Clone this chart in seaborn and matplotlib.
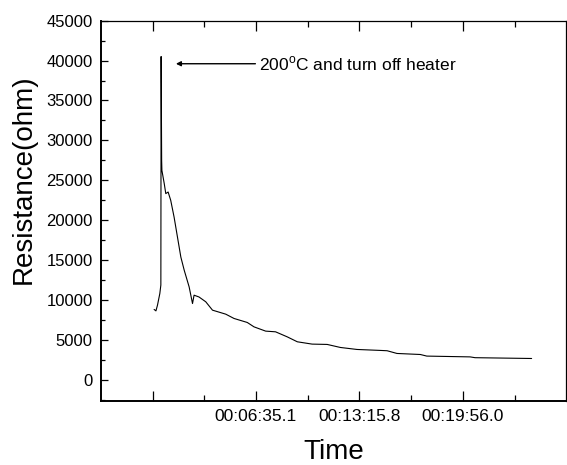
import matplotlib
matplotlib.use("Agg")
import matplotlib.pyplot as plt
from matplotlib.ticker import MultipleLocator, FixedLocator
import seaborn as sns
import pandas as pd

# time in seconds since start, resistance in ohm
time_s = [6, 13, 19, 28, 32, 33, 35, 36, 45, 51, 60, 70, 83, 96, 109, 122,
          141, 154, 160, 179, 205, 231, 282, 314, 365, 391, 436, 474, 519,
          558, 615, 673, 724, 788, 878, 904, 942, 1032, 1057, 1224, 1243,
          1461]
resistance = [8840, 8660, 9375, 10830, 11900, 40500, 27500, 26250, 24600,
              23340, 23540, 22500, 20400, 17900, 15400, 13750, 11660, 9580,
              10625, 10400, 9800, 8750, 8250, 7710, 7210, 6660, 6125, 6040,
              5410, 4790, 4500, 4460, 4080, 3830, 3710, 3670, 3330, 3200,
              3000, 2900, 2800, 2700]

tick_pos = [0, 398.67, 797.33, 1196.0]
tick_labels = ["", "00:06:35.1", "00:13:15.8", "00:19:56.0"]

df = pd.DataFrame({"Time": time_s, "Resistance": resistance})

sns.set_style("ticks")
plt.rcParams["font.family"] = ["Liberation Sans", "DejaVu Sans"]
plt.rcParams["mathtext.fontset"] = "custom"
plt.rcParams["mathtext.rm"] = "Liberation Sans"
plt.rcParams["text.color"] = "black"
plt.rcParams["axes.labelcolor"] = "black"

fig = plt.figure(figsize=(5.67, 4.65), dpi=100)
ax = fig.add_axes([0.178, 0.1387, 0.820, 0.817])
sns.lineplot(data=df, x="Time", y="Resistance", color="black", lw=0.8,
             sort=False, ax=ax)

ax.set_xlim(-199, 1593)
ax.set_ylim(-2560, 45000)
ax.yaxis.set_major_locator(FixedLocator(range(0, 45001, 5000)))
ax.yaxis.set_minor_locator(MultipleLocator(2500))
ax.xaxis.set_major_locator(FixedLocator(tick_pos))
ax.xaxis.set_minor_locator(FixedLocator([199.3, 598, 996.7, 1395.3]))
ax.set_xticklabels(tick_labels)
ax.tick_params(which="both", direction="in", top=True, right=False,
               colors="black")
ax.tick_params(axis="y", which="major", length=5, width=0.9, labelsize=12,
               pad=6)
ax.tick_params(axis="y", which="minor", length=3, width=0.9)
ax.tick_params(axis="x", which="major", length=7, width=0.9, labelsize=12.5,
               pad=6)
ax.tick_params(axis="x", which="minor", length=4, width=0.9)
for name, s in ax.spines.items():
    s.set_color("black")
    s.set_linewidth(1.4 if name in ("left", "bottom") else 0.9)

ax.set_xlabel("Time", fontsize=20)
ax.set_ylabel("Resistance(ohm)", fontsize=20)
ax.xaxis.set_label_coords(0.5, -0.101)
ax.yaxis.set_label_coords(-0.137, 0.583)

ax.annotate("200$^{\\rm o}$C and turn off heater", xy=(90, 39600),
            xytext=(409, 39600), fontsize=12.5, va="center", ha="left",
            color="black",
            arrowprops=dict(arrowstyle="-|>", color="black", lw=1.0,
                            mutation_scale=7, shrinkA=0, shrinkB=0))

fig.savefig("out.png", dpi=100)
plt.close(fig)
